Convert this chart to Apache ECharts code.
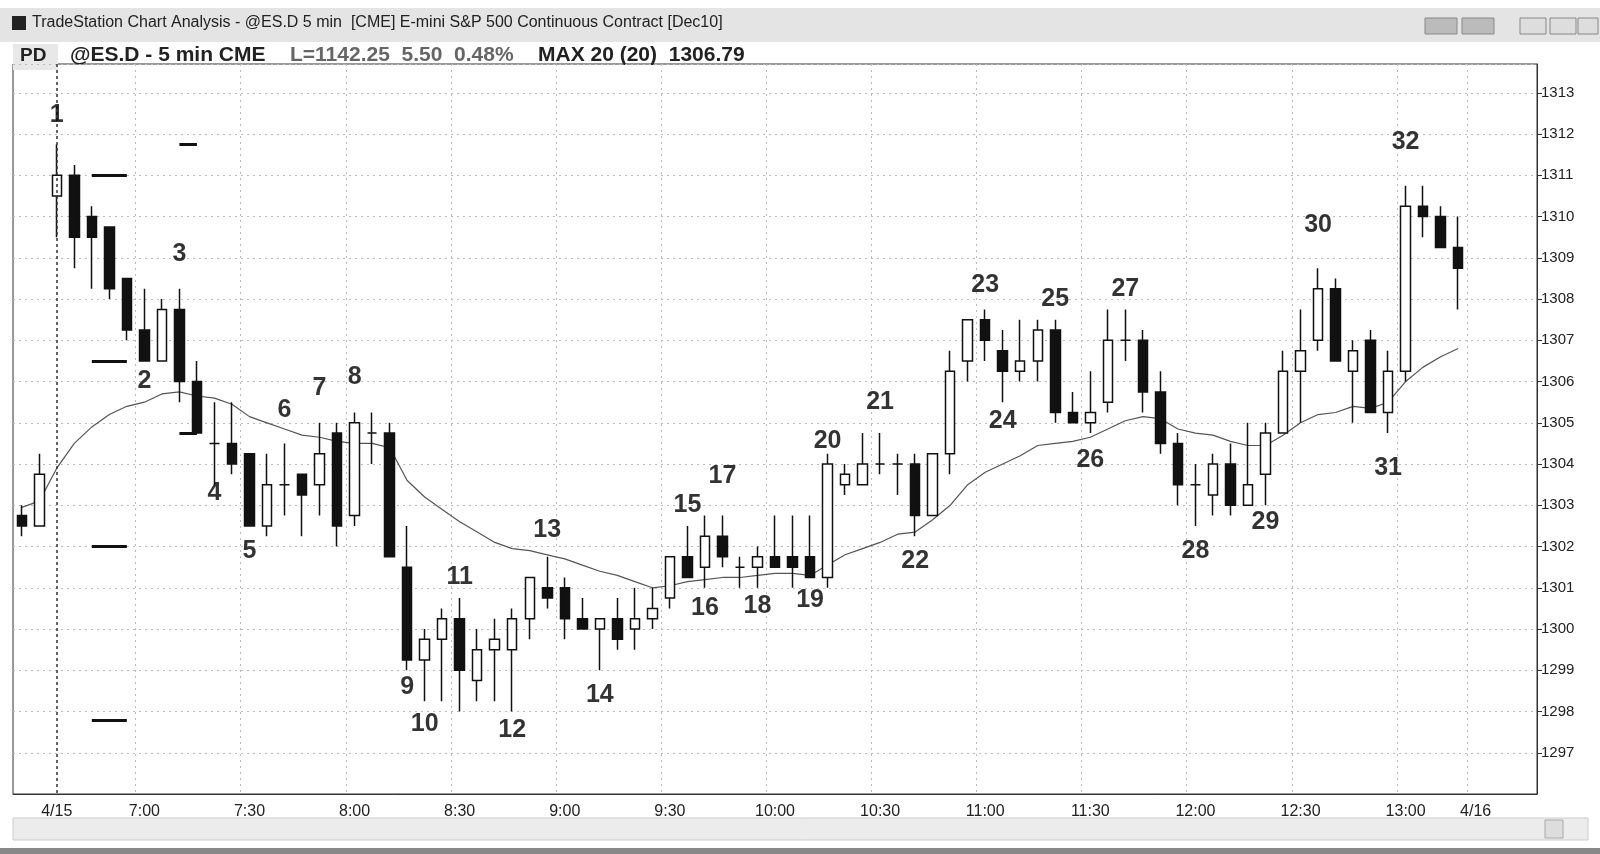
<!DOCTYPE html>
<html>
<head>
<meta charset="utf-8">
<script src="https://cdn.jsdelivr.net/npm/echarts@6/dist/echarts.min.js"></script>
<style>
html,body{margin:0;padding:0;background:#fff;}
#main{width:1600px;height:854px;}
</style>
</head>
<body>
<div id="main"></div>
<script>
// [open, close, low, high] per 5 min bar
var bars = [
  [1302.75,1302.5,1302.25,1303],[1302.5,1303.75,1302.5,1304.25],
  [1310.5,1311,1309.5,1311.75],[1311,1309.5,1308.75,1311.25],[1310,1309.5,1308.25,1310.25],
  [1309.75,1308.25,1308,1309.75],[1308.5,1307.25,1307,1308.5],[1307.25,1306.5,1306.5,1308.25],
  [1306.5,1307.75,1306.5,1308],[1307.75,1306,1305.5,1308.25],[1306,1304.75,1304.75,1306.5],
  [1304.5,1304.5,1303.5,1305.5],[1304.5,1304,1303.75,1305.5],[1304.25,1302.5,1302.5,1304.25],
  [1302.5,1303.5,1302.25,1304.25],[1303.5,1303.5,1302.75,1304.5],[1303.75,1303.25,1302.25,1303.75],
  [1303.5,1304.25,1302.75,1305],[1304.75,1302.5,1302,1305],[1302.75,1305,1302.5,1305.25],
  [1304.75,1304.75,1304,1305.25],[1304.75,1301.75,1301.75,1305],[1301.5,1299.25,1299,1302.5],
  [1299.25,1299.75,1298.25,1300],[1299.75,1300.25,1298.25,1300.5],[1300.25,1299,1298,1300.75],
  [1298.75,1299.5,1298.25,1300],[1299.5,1299.75,1298.25,1300.25],[1299.5,1300.25,1298,1300.5],
  [1300.25,1301.25,1299.75,1301.25],[1301,1300.75,1300.5,1301.75],[1301,1300.25,1299.75,1301.25],
  [1300.25,1300,1300,1300.75],[1300,1300.25,1299,1300.25],[1300.25,1299.75,1299.5,1300.75],
  [1300,1300.25,1299.5,1301],[1300.25,1300.5,1300,1301],[1300.75,1301.75,1300.5,1301.75],
  [1301.75,1301.25,1301.25,1302.5],[1301.5,1302.25,1301,1302.75],[1302.25,1301.75,1301.5,1302.75],
  [1301.5,1301.5,1301,1301.75],[1301.5,1301.75,1301,1302],[1301.75,1301.5,1301.5,1302.75],
  [1301.75,1301.5,1301,1302.75],[1301.75,1301.25,1301.25,1302.75],[1301.25,1304,1301,1304.25],
  [1303.5,1303.75,1303.25,1304],[1303.5,1304,1303.5,1304.75],[1304,1304,1303.75,1304.75],
  [1304,1304,1303.25,1304.25],[1304,1302.75,1302.25,1304.25],[1302.75,1304.25,1302.75,1304.25],
  [1304.25,1306.25,1303.75,1306.75],[1306.5,1307.5,1306,1307.5],[1307.5,1307,1306.5,1307.75],
  [1306.75,1306.25,1305.5,1307.25],[1306.25,1306.5,1306,1307.5],[1306.5,1307.25,1306,1307.5],
  [1307.25,1305.25,1305,1307.5],[1305.25,1305,1305,1305.75],[1305,1305.25,1304.75,1306.25],
  [1305.5,1307,1305.25,1307.75],[1307,1307,1306.5,1307.75],[1307,1305.75,1305.25,1307.25],
  [1305.75,1304.5,1304.25,1306.25],[1304.5,1303.5,1303,1304.75],[1303.5,1303.5,1302.5,1304],
  [1303.25,1304,1302.75,1304.25],[1304,1303,1302.75,1304.5],[1303,1303.5,1303,1305],
  [1303.75,1304.75,1303,1305],[1304.75,1306.25,1304.75,1306.75],[1306.25,1306.75,1305,1307.75],
  [1307,1308.25,1306.75,1308.75],[1308.25,1306.5,1306.5,1308.5],[1306.25,1306.75,1305,1307],
  [1307,1305.25,1305.25,1307.25],[1305.25,1306.25,1304.75,1306.75],[1306.25,1310.25,1306,1310.75],
  [1310.25,1310,1309.5,1310.75],[1310,1309.25,1309.25,1310.25],[1309.25,1308.75,1307.75,1310]
];
// moving average line
var avgLine = [
  1302.95,1303.1,1303.9,1304.5,1304.9,1305.2,1305.4,1305.5,1305.7,1305.75,1305.65,1305.6,1305.45,1305.15,1305.0,1304.85,1304.7,1304.65,1304.55,1304.5,1304.5,
  1304.4,1303.6,1303.2,1302.9,1302.6,1302.35,1302.1,1301.95,1301.9,1301.8,
  1301.7,1301.55,1301.4,1301.3,1301.15,1301.0,1301.05,1301.15,1301.2,1301.25,
  1301.25,1301.3,1301.35,1301.35,1301.3,1301.55,1301.8,1301.95,1302.1,1302.3,
  1302.35,1302.65,1303.0,1303.5,1303.8,1304.0,1304.2,1304.45,1304.5,1304.55,
  1304.65,1304.85,1305.05,1305.15,1305.1,1304.85,1304.75,1304.7,1304.55,1304.45,
  1304.45,1304.7,1305.0,1305.2,1305.25,1305.4,1305.35,1305.5,1306.0,1306.35,1306.6,1306.8
];
// swing numbers: [bar index, price level of the label, text]
var swingLabels = [
  [2,1312.45,'1'],[7,1306.0,'2'],[9,1309.1,'3'],[11,1303.3,'4'],[13,1301.9,'5'],[15,1305.3,'6'],
  [17,1305.85,'7'],[19,1306.1,'8'],[22,1298.6,'9'],[23,1297.7,'10'],[25,1301.25,'11'],[28,1297.55,'12'],
  [30,1302.4,'13'],[33,1298.4,'14'],[38,1303.0,'15'],[39,1300.5,'16'],[40,1303.7,'17'],[42,1300.55,'18'],
  [45,1300.7,'19'],[46,1304.55,'20'],[49,1305.5,'21'],[51,1301.65,'22'],[55,1308.35,'23'],[56,1305.05,'24'],
  [59,1308.0,'25'],[61,1304.1,'26'],[63,1308.25,'27'],[67,1301.9,'28'],[71,1302.6,'29'],[74,1309.8,'30'],
  [78,1303.9,'31'],[79,1311.8,'32']
];
// short horizontal level marks: [from bar, to bar, price]
var levelMarks = [[4,6,1311],[4,6,1306.5],[4,6,1302],[4,6,1297.8],[9,10,1311.75],[9,10,1304.75]];
var slotCount = 87;
var tickText = {2:'4/15',7:'7:00',13:'7:30',19:'8:00',25:'8:30',31:'9:00',37:'9:30',43:'10:00',
  49:'10:30',55:'11:00',61:'11:30',67:'12:00',73:'12:30',79:'13:00',83:'4/16'};

var cats = [];
for (var i = 0; i < slotCount; i++) cats.push(String(i));
var candleData = cats.map(function(c, i){ return bars[i] ? bars[i] : '-'; });
var avgData = cats.map(function(c, i){ return avgLine[i] != null ? avgLine[i] : '-'; });
function isTick(i){ return tickText[i] !== undefined; }

var chart = echarts.init(document.getElementById('main'));
chart.setOption({
  animation: false,
  backgroundColor: '#fff',
  graphic: [
    {type:'rect', shape:{x:0,y:8,width:1600,height:34}, style:{fill:'#e4e4e4'}},
    {type:'rect', shape:{x:12,y:16,width:14,height:14}, style:{fill:'#222'}},
    {type:'text', left:32, top:15, style:{text:'TradeStation Chart Analysis - @ES.D 5 min  [CME] E-mini S&P 500 Continuous Contract [Dec10]', font:'16px "Liberation Sans", Arial', fill:'#222'}},
    {type:'rect', shape:{x:1425,y:18,width:32,height:16}, style:{fill:'#bbb', stroke:'#888'}},
    {type:'rect', shape:{x:1462,y:18,width:32,height:16}, style:{fill:'#bbb', stroke:'#888'}},
    {type:'rect', shape:{x:1520,y:18,width:26,height:16}, style:{fill:'#ddd', stroke:'#888'}},
    {type:'rect', shape:{x:1550,y:18,width:26,height:16}, style:{fill:'#ddd', stroke:'#888'}},
    {type:'rect', shape:{x:1578,y:18,width:20,height:16}, style:{fill:'#ddd', stroke:'#888'}},
    {type:'rect', shape:{x:13,y:44,width:45,height:26}, style:{fill:'#e8e8e8'}},
    {type:'text', left:20, top:46, style:{text:'PD', font:'bold 19px "Liberation Sans", Arial', fill:'#222'}},
    {type:'text', left:70, top:45, style:{text:'@ES.D - 5 min CME', font:'bold 21px "Liberation Sans", Arial', fill:'#222'}},
    {type:'text', left:290, top:45, style:{text:'L=1142.25  5.50  0.48%', font:'bold 21px "Liberation Sans", Arial', fill:'#666'}},
    {type:'text', left:538, top:45, style:{text:'MAX 20 (20)  1306.79', font:'bold 21px "Liberation Sans", Arial', fill:'#222'}},
    {type:'rect', shape:{x:13,y:818,width:1575,height:22}, style:{fill:'#ececec', stroke:'#ccc'}},
    {type:'rect', shape:{x:1545,y:820,width:18,height:18}, style:{fill:'#ddd', stroke:'#aaa'}},
    {type:'rect', shape:{x:0,y:848,width:1600,height:6}, style:{fill:'#888'}}
  ],
  grid: {left:13, right:63, top:64, bottom:60, show:true, borderColor:'#333', borderWidth:1},
  xAxis: {
    type:'category', data:cats, boundaryGap:true,
    axisLine:{lineStyle:{color:'#333'}},
    axisTick:{alignWithLabel:true, interval:function(i){return isTick(i);}, length:6, inside:true, lineStyle:{color:'#333'}},
    axisLabel:{interval:function(i){return isTick(i);}, formatter:function(v){return tickText[+v]||'';}, color:'#222', fontSize:16, fontFamily:'Liberation Sans', margin:10},
    splitLine:{show:true, interval:function(i){return isTick(i) && i !== 2;}, lineStyle:{color:'#bbb', type:[2,4]}}
  },
  yAxis: {
    type:'value', position:'right', min:1296, max:1313.7, interval:1, scale:true,
    axisLine:{show:true, lineStyle:{color:'#333'}},
    axisTick:{show:true, length:5, lineStyle:{color:'#333'}},
    axisLabel:{showMinLabel:false, showMaxLabel:false, formatter:function(v){return String(v);}, color:'#222', fontSize:15, fontFamily:'Liberation Sans', margin:4},
    splitLine:{show:true, lineStyle:{color:'#bbb', type:[2,4]}}
  },
  series: [
    {
      type:'candlestick', data:candleData, barWidth:10,
      itemStyle:{color:'#fff', color0:'#111', borderColor:'#111', borderColor0:'#111', borderWidth:1.5},
      markLine:{
        symbol:'none', silent:true, label:{show:false},
        data: [[{xAxis:2, y:64, lineStyle:{color:'#333', type:[3,3], width:1.5}}, {xAxis:2, y:794}]].concat(
          levelMarks.map(function(m){
            return [{coord:[m[0], m[2]], lineStyle:{color:'#111', type:'solid', width:3}}, {coord:[m[1], m[2]]}];
          }))
      }
    },
    {
      type:'line', data:avgData, showSymbol:false, smooth:false,
      lineStyle:{color:'#555', width:1.2}, z:1
    },
    {
      type:'scatter', symbolSize:0, z:5,
      data: swingLabels.map(function(s){ return {value:[String(s[0]), s[1]], name:s[2]}; }),
      label:{show:true, position:'inside', formatter:function(p){return p.name;}, color:'#000', fontSize:25, fontWeight:'bold', fontFamily:'Liberation Sans'}
    }
  ]
});
</script>
</body>
</html>
